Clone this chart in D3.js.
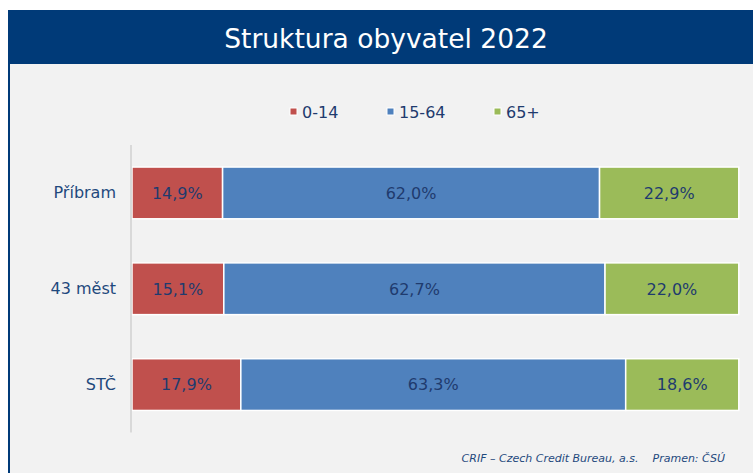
<!DOCTYPE html>
<html><head><meta charset="utf-8">
<script src="https://cdn.jsdelivr.net/npm/d3@7"></script>
<style>body{margin:0;background:#fff;}svg{display:block;}</style>
</head><body>
<script>
const title = "Struktura obyvatel 2022";
const categories = ["Příbram", "43 měst", "STČ"];
const seriesNames = ["0-14", "15-64", "65+"];
const seriesColors = ["#c0504d", "#4f81bd", "#9bbb59"];
const vals0_14 = [14.9, 15.1, 17.9];
const vals15_64 = [62.0, 62.7, 63.3];
const vals65 = [22.9, 22.0, 18.6];
const footer = "CRIF – Czech Credit Bureau, a.s.    Pramen: ČSÚ";

const W = 753, H = 473;
const svg = d3.select("body").append("svg").attr("width", W).attr("height", H);
const font = "'DejaVu Sans', Verdana, sans-serif";

// panel
svg.append("rect").attr("x", 8).attr("y", 10).attr("width", W - 8).attr("height", H - 10).attr("fill", "#f2f2f2");
svg.append("rect").attr("x", 8).attr("y", 10).attr("width", 2).attr("height", H - 10).attr("fill", "#003a78");
svg.append("rect").attr("x", 8).attr("y", 10).attr("width", W - 8).attr("height", 54).attr("fill", "#003a78");
svg.append("text").attr("x", 386).attr("y", 47.5).attr("text-anchor", "middle")
  .attr("fill", "#fff").attr("font-family", font).attr("font-size", 26.5).text(title);

const data = categories.map((c, i) => ({cat: c, "0-14": vals0_14[i], "15-64": vals15_64[i], "65+": vals65[i]}));
const stack = d3.stack().keys(seriesNames)(data);

const x = d3.scaleLinear().domain([0, 100]).range([132, 740]);
const y = d3.scaleBand().domain(categories).range([145, 432.5]).paddingInner(0.46).paddingOuter(0.23);
const color = d3.scaleOrdinal().domain(seriesNames).range(seriesColors);

const g = svg.append("g");
stack.forEach(s => {
  const grp = g.append("g");
  grp.selectAll("rect").data(s).join("rect")
    .attr("x", d => x(d[0])).attr("width", d => x(d[1]) - x(d[0]))
    .attr("y", d => y(d.data.cat)).attr("height", y.bandwidth())
    .attr("fill", color(s.key)).attr("stroke", "#fff").attr("stroke-width", 1.5);
  grp.selectAll("text").data(s).join("text")
    .attr("x", d => (x(d[0]) + x(d[1])) / 2).attr("y", d => y(d.data.cat) + y.bandwidth() / 2)
    .attr("dy", "0.36em").attr("text-anchor", "middle")
    .attr("font-family", font).attr("font-size", 16).attr("fill", "#1f3b6e")
    .text(d => d3.format(".1f")(d[1] - d[0]).replace(".", ",") + "%");
});

// axis line
svg.append("line").attr("x1", 131).attr("x2", 131).attr("y1", 145).attr("y2", 432.5)
  .attr("stroke", "#d9d9d9").attr("stroke-width", 2);
const yAxis = d3.axisLeft(y).tickSize(0).tickPadding(15);
const ax = svg.append("g").attr("transform", "translate(131,0)").call(yAxis);
ax.select(".domain").remove();
ax.selectAll("text").attr("font-family", font).attr("font-size", 16).attr("fill", "#1f497d");

// legend
const legX = [290, 387, 494];
const leg = svg.append("g");
seriesNames.forEach((n, i) => {
  leg.append("rect").attr("x", legX[i]).attr("y", 108).attr("width", 7).attr("height", 7)
    .attr("fill", seriesColors[i]).attr("stroke", "#fff").attr("stroke-width", 1);
  leg.append("text").attr("x", legX[i] + 12).attr("y", 112).attr("dy", "0.36em")
    .attr("font-family", font).attr("font-size", 16).attr("fill", "#1f3b6e").text(n);
});

// footer
svg.append("text").attr("x", 725).attr("y", 462).attr("text-anchor", "end")
  .attr("font-family", font).attr("font-size", 11).attr("font-style", "italic")
  .attr("fill", "#1f497d").attr("xml:space", "preserve").style("white-space", "pre").text(footer);
</script>
</body></html>
